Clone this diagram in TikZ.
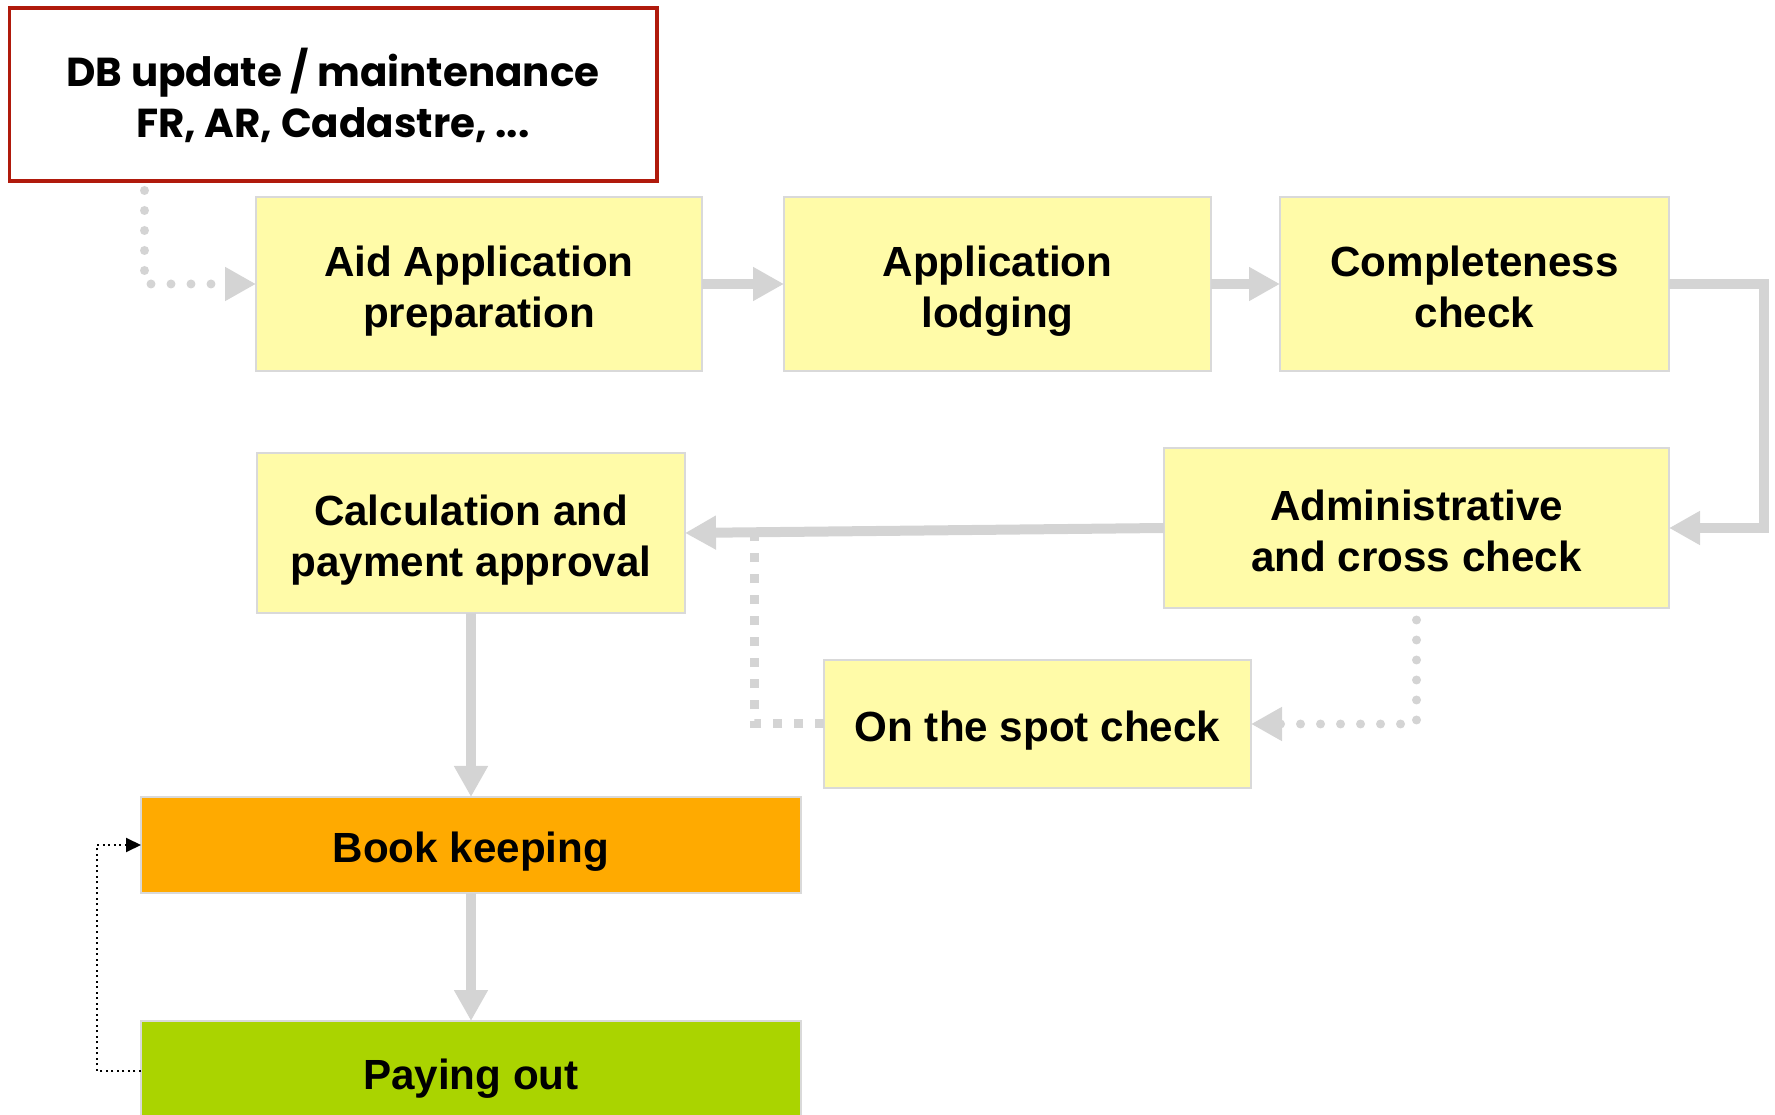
\documentclass[tikz,border=0pt]{standalone}
\usepackage{fontspec}
\setmainfont{Liberation Sans}
\newfontfamily\dbfont{Poppins}
\usepackage{xcolor}
\usetikzlibrary{positioning, calc, arrows.meta}

\definecolor{paleyellow}{HTML}{FFFBA8}
\definecolor{boxgray}{HTML}{D9D9D9}
\definecolor{flowgray}{HTML}{D4D4D4}
\definecolor{bookorange}{HTML}{FFAA00}
\definecolor{paygreen}{HTML}{AAD400}
\definecolor{dbred}{HTML}{B01A0C}

\begin{document}
\begin{tikzpicture}[>={Triangle[length=0.31cm, width=0.32cm]}, line width=0.1cm,
		node distance=1cm,
		stage/.style={draw=boxgray, line width=0.02cm, fill=paleyellow,
				inner sep=0pt, outer sep=0pt, align=center,
				text height=0.87cm, text depth=0pt,
				font=\fontsize{12}{14.5}\selectfont\bfseries},
		oneline/.style={stage, text height=0.36cm},
		flow/.style={draw=flowgray, ->},
		dotflow/.style={flow, line width=0.09cm, line cap=round,
				dash pattern=on 0pt off 0.2cm},
		dashflow/.style={draw=flowgray, line width=0.09cm,
				dash pattern=on 0.09cm off 0.12cm},
		backlink/.style={draw=black, line width=0.02cm, densely dotted,
				-{Triangle[length=0.15cm, width=0.14cm]}}]
	\useasboundingbox (0,0) rectangle (17.75,-11.15);

	\node[draw=dbred, line width=0.04cm, fill=white, inner sep=0pt, outer sep=0pt,
		minimum width=6.47cm, minimum height=1.73cm, align=center,
		font=\dbfont\fontsize{11.5}{14.5}\selectfont\bfseries] (db) at (3.33,-0.95)
		{DB update / maintenance\\FR, AR, Cadastre, ...};

	\node[stage, minimum width=4.46cm, minimum height=1.74cm] (aid) at (4.79,-2.84)
		{Aid Application\\preparation};
	\node[stage, minimum width=4.27cm, minimum height=1.74cm, right=0.82cm of aid] (lodging)
		{Application\\lodging};
	\node[stage, minimum width=3.89cm, minimum height=1.74cm, right=0.69cm of lodging] (complete)
		{Completeness\\check};
	\node[stage, minimum width=5.05cm, minimum height=1.6cm,
		below left=0.77cm and 0cm of complete.south east] (admin)
		{Administrative\\and cross check};
	\node[stage, minimum width=4.28cm, minimum height=1.6cm] (calc) at (4.71,-5.33)
		{Calculation and\\payment approval};
	\node[oneline, minimum width=4.27cm, minimum height=1.28cm] (spot) at (10.375,-7.24)
		{On the spot check};
	\node[oneline, fill=bookorange, minimum width=6.6cm, minimum height=0.96cm,
		below=1.84cm of calc] (book) {Book keeping};
	\node[oneline, fill=paygreen, minimum width=6.6cm, minimum height=1cm,
		below=1.28cm of book] (pay) {Paying out};

	\coordinate (join) at ($(calc.east)!0.146!(admin.west)$);

	\draw[dotflow, shorten <=0.09cm] ([xshift=1.35cm]db.south west) |- (aid.west);
	\draw[flow] (aid) -- (lodging);
	\draw[flow] (lodging) -- (complete);
	\draw[flow] (complete.east) -- ++(0.95,0) |- (admin.east);
	\draw[flow] (admin.west) -- (calc.east);
	\draw[dotflow, shorten <=0.12cm] (admin.south) |- (spot.east);
	\draw[dashflow] (spot.west) -| (join);
	\draw[flow] (calc) -- (book);
	\draw[flow] (book) -- (pay);
	\draw[backlink] (pay.west) -- ++(-0.44,0) |- (book.west);
\end{tikzpicture}
\end{document}
